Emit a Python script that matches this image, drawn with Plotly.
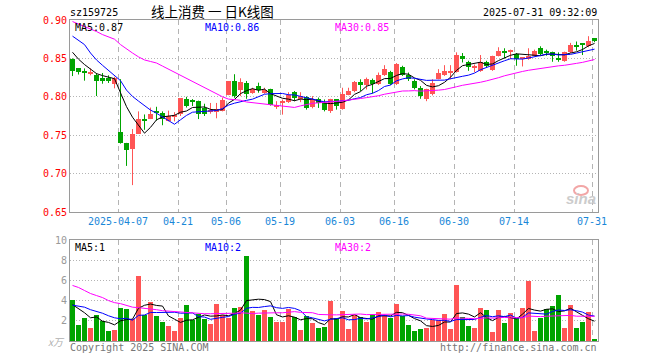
import plotly.graph_objects as go

# ---------------- data ----------------
opens = [0.849, 0.837, 0.833, 0.830, 0.829, 0.825, 0.824, 0.817, 0.754, 0.740,
         0.732, 0.752, 0.771, 0.771, 0.781, 0.779, 0.769, 0.7745, 0.777, 0.797,
         0.7945, 0.794, 0.785, 0.781, 0.780, 0.781, 0.802, 0.8206, 0.8088, 0.8184,
         0.8053, 0.814, 0.8053, 0.8105, 0.7868, 0.7921, 0.7935, 0.8066, 0.7965, 0.800,
         0.7864, 0.797, 0.792, 0.7811, 0.797, 0.7846, 0.803, 0.8075, 0.8193, 0.8153,
         0.822, 0.8162, 0.8281, 0.8329, 0.8162, 0.8382, 0.8281, 0.8206, 0.8118, 0.7965,
         0.8031, 0.8237, 0.8281, 0.8307, 0.8325, 0.8535, 0.8447, 0.838, 0.8338, 0.8456,
         0.8351, 0.8535, 0.8592, 0.8592, 0.8557, 0.8495, 0.8491, 0.8535, 0.8632, 0.8592,
         0.8579, 0.850, 0.8469, 0.8579, 0.8675, 0.8689, 0.8658, 0.8763]
highs = [0.850, 0.837, 0.837, 0.837, 0.831, 0.831, 0.828, 0.826, 0.823, 0.740,
         0.758, 0.781, 0.777, 0.786, 0.787, 0.781, 0.782, 0.780, 0.798, 0.800,
         0.797, 0.795, 0.791, 0.792, 0.792, 0.799, 0.820, 0.8294, 0.8241, 0.8206,
         0.8118, 0.8184, 0.8118, 0.8105, 0.7943, 0.7965, 0.806, 0.8075, 0.806, 0.8009,
         0.8009, 0.799, 0.7965, 0.7974, 0.797, 0.8118, 0.8118, 0.8206, 0.8228, 0.825,
         0.8237, 0.8316, 0.8412, 0.8338, 0.8439, 0.8404, 0.8316, 0.8228, 0.814, 0.8105,
         0.8228, 0.836, 0.8412, 0.8412, 0.8579, 0.857, 0.8469, 0.842, 0.8544, 0.8469,
         0.8535, 0.8645, 0.8632, 0.8614, 0.857, 0.8505, 0.8632, 0.8614, 0.8658, 0.8614,
         0.8588, 0.8579, 0.8588, 0.8702, 0.872, 0.8689, 0.8789, 0.8763]
lows = [0.827, 0.829, 0.821, 0.828, 0.801, 0.817, 0.818, 0.811, 0.739, 0.710,
        0.685, 0.752, 0.757, 0.771, 0.769, 0.763, 0.768, 0.768, 0.775, 0.786,
        0.788, 0.771, 0.775, 0.778, 0.772, 0.781, 0.802, 0.7987, 0.8009, 0.7974,
        0.8039, 0.8053, 0.8039, 0.7886, 0.7842, 0.7768, 0.792, 0.7943, 0.793, 0.7833,
        0.785, 0.7855, 0.781, 0.779, 0.7833, 0.7833, 0.802, 0.806, 0.8075, 0.8096,
        0.8044, 0.8154, 0.8272, 0.8154, 0.8154, 0.8272, 0.8206, 0.8096, 0.7974, 0.7943,
        0.8018, 0.8228, 0.8272, 0.8228, 0.8316, 0.8447, 0.8338, 0.832, 0.8325, 0.8382,
        0.8338, 0.8526, 0.850, 0.8491, 0.8404, 0.8395, 0.8482, 0.8526, 0.8535, 0.8535,
        0.8456, 0.8456, 0.8456, 0.857, 0.8601, 0.8544, 0.8645, 0.8711]
closes = [0.834, 0.832, 0.832, 0.832, 0.821, 0.821, 0.820, 0.824, 0.740, 0.731,
          0.752, 0.771, 0.769, 0.778, 0.780, 0.771, 0.775, 0.7755, 0.798, 0.788,
          0.794, 0.777, 0.777, 0.782, 0.784, 0.796, 0.820, 0.8009, 0.8197, 0.8031,
          0.8096, 0.8088, 0.8088, 0.7899, 0.7899, 0.7930, 0.803, 0.7987, 0.8009, 0.7855,
          0.7974, 0.792, 0.7833, 0.7974, 0.7877, 0.804, 0.8075, 0.8193, 0.8153, 0.8228,
          0.8162, 0.8281, 0.836, 0.8162, 0.8425, 0.8285, 0.8237, 0.8118, 0.8009, 0.8096,
          0.8184, 0.8316, 0.8338, 0.8338, 0.8544, 0.8491, 0.8382, 0.839, 0.8447, 0.8395,
          0.8526, 0.8601, 0.8579, 0.8601, 0.8491, 0.8500, 0.8526, 0.8601, 0.8557, 0.8579,
          0.8526, 0.8491, 0.8579, 0.8675, 0.8658, 0.8675, 0.8732, 0.8732]
volumes = [4.1, 1.6, 2.3, 1.3, 2.6, 2.0, 1.0, 1.1, 3.3, 3.2,
           2.2, 6.4, 2.6, 3.9, 2.5, 1.9, 1.5, 1.0, 2.3, 3.6,
           2.1, 2.7, 2.2, 1.7, 3.7, 2.6, 2.3, 3.3, 3.4, 8.4,
           3.0, 2.6, 3.1, 2.4, 1.9, 1.9, 3.2, 2.4, 1.1, 2.5,
           1.8, 1.3, 1.4, 4.0, 2.3, 3.0, 1.2, 2.6, 2.4, 1.9,
           2.7, 2.9, 2.6, 2.3, 3.7, 2.5, 1.6, 1.0, 1.2, 1.3,
           2.1, 2.1, 2.7, 1.2, 5.5, 2.4, 1.5, 1.3, 3.3, 3.1,
           0.9, 3.1, 1.8, 2.8, 2.3, 3.3, 5.9, 1.0, 2.3, 3.2,
           3.5, 4.6, 1.3, 3.6, 1.3, 1.9, 2.9, 0.1]

# moving-average values before a full window exists
ma5_head = [0.858, 0.849, 0.842, 0.836]
ma10_head = [0.879, 0.874, 0.868, 0.857, 0.848, 0.841, 0.834, 0.827, 0.821]
ma30_head = [0.898, 0.895, 0.891, 0.888, 0.885, 0.881, 0.878, 0.875, 0.868, 0.862,
             0.857, 0.852, 0.848, 0.846, 0.844, 0.840, 0.836, 0.831, 0.827, 0.823,
             0.820, 0.815, 0.811, 0.8075, 0.804, 0.800, 0.797, 0.796, 0.7955]
vma5_head = [3.6, 3.2, 2.8, 2.3]
vma10_head = [3.55, 3.45, 3.35, 3.1, 2.95, 2.75, 2.5, 2.3, 2.2]
vma30_head = [5.5, 5.3, 5.0, 4.7, 4.5, 4.3, 4.0, 3.8, 3.7, 3.5,
              3.35, 3.3, 3.25, 3.2, 3.1, 3.0, 2.95, 2.9, 2.85, 2.8,
              2.75, 2.7, 2.7, 2.7, 2.7, 2.7, 2.7, 2.75, 2.8]

tick_index = [8, 18, 26, 35, 45, 54, 64, 74, 87]
tick_labels = ["2025-04-07", "04-21", "05-06", "05-19", "06-03", "06-16", "06-30", "07-14", "07-31"]
price_ticks = [0.65, 0.70, 0.75, 0.80, 0.85, 0.90]
vol_ticks = [2, 4, 6, 8, 10]


def moving(values, n, head):
    out = list(head)
    for i in range(len(head), len(values)):
        out.append(sum(values[i - n + 1:i + 1]) / n)
    return out


ma5 = moving(closes, 5, ma5_head)
ma10 = moving(closes, 10, ma10_head)
ma30 = moving(closes, 30, ma30_head)
vma5 = moving(volumes, 5, vma5_head)
vma10 = moving(volumes, 10, vma10_head)
vma30 = moving(volumes, 30, vma30_head)

RED = "#ff5555"
GREEN = "#00a400"
MONO = "DejaVu Sans Mono"

n = len(closes)
xs = list(range(n))
up = [closes[i] >= opens[i] for i in xs]

fig = go.Figure()

# wicks
for flag, col in ((True, RED), (False, GREEN)):
    wx, wy = [], []
    for i in xs:
        if up[i] == flag:
            wx += [i, i, None]
            wy += [lows[i], highs[i], None]
    fig.add_trace(go.Scatter(x=wx, y=wy, mode="lines", line=dict(color=col, width=1),
                             xaxis="x", yaxis="y", hoverinfo="skip", showlegend=False))

# bodies
for flag, col in ((True, RED), (False, GREEN)):
    bx = [i for i in xs if up[i] == flag]
    fig.add_trace(go.Bar(
        x=bx,
        base=[min(opens[i], closes[i]) for i in bx],
        y=[max(abs(closes[i] - opens[i]), 0.0013) for i in bx],
        width=0.83, marker=dict(color=col, line=dict(width=0)),
        xaxis="x", yaxis="y", showlegend=False))

# price MAs
for vals, col in ((ma5, "#000000"), (ma10, "#0000ff"), (ma30, "#ff00ff")):
    fig.add_trace(go.Scatter(x=xs, y=vals, mode="lines", line=dict(color=col, width=1),
                             xaxis="x", yaxis="y", showlegend=False))

# volume bars
fig.add_trace(go.Bar(x=xs, y=volumes, width=0.83,
                     marker=dict(color=[RED if u else GREEN for u in up], line=dict(width=0)),
                     xaxis="x2", yaxis="y2", showlegend=False))
for vals, col in ((vma5, "#000000"), (vma10, "#0000ff"), (vma30, "#ff00ff")):
    fig.add_trace(go.Scatter(x=xs, y=vals, mode="lines", line=dict(color=col, width=1),
                             xaxis="x2", yaxis="y2", showlegend=False))

L, R, T, B = 70, 62, 20, 19
W, H = 660, 360
PW, PH = W - L - R, H - T - B


def px(x, y):
    return (x - L) / PW, (H - B - y) / PH


xr = [-0.4167, n - 0.4167]
tickpos = [t - 0.4167 for t in tick_index]
grid_common = dict(showgrid=True, gridcolor="#b4b4b4", gridwidth=1, showline=True, mirror=True,
                   linecolor="#9a9a9a", linewidth=1, zeroline=False, ticks="", fixedrange=True)

fig.update_layout(
    width=W, height=H, margin=dict(l=L, r=R, t=T, b=B),
    paper_bgcolor="white", plot_bgcolor="white", bargap=0, barmode="overlay",
    showlegend=False,
    font=dict(family=MONO, size=10, color="#000"),
    xaxis=dict(domain=[0, 1], range=xr, tickvals=tickpos, ticktext=tick_labels,
               tickfont=dict(family=MONO, size=10, color="#1a87d8"), griddash="5px,4px",
               anchor="y", **grid_common),
    yaxis=dict(domain=[(H - B - 212) / PH, 1], range=[0.65, 0.90], tickvals=price_ticks,
               ticktext=["%.2f" % v for v in price_ticks],
               tickfont=dict(family=MONO, size=10, color="#ff0000"), griddash="1px,2px",
               anchor="x", **grid_common),
    xaxis2=dict(domain=[0, 1], range=xr, tickvals=tickpos, showticklabels=False,
                griddash="5px,4px", anchor="y2", **grid_common),
    yaxis2=dict(domain=[0, (H - B - 240) / PH], range=[0, 10], tickvals=vol_ticks,
                ticktext=[str(v) for v in vol_ticks],
                tickfont=dict(family=MONO, size=10, color="#9a9a9a"), griddash="1px,2px",
                anchor="x2", **grid_common),
)

anns = []


def ann(text, x, y, anchor="left", color="#000", size=10, family=MONO, italic=False):
    xp, yp = px(x, y)
    t = "<i>%s</i>" % text if italic else text
    anns.append(dict(text=t, x=xp, y=yp, xref="paper", yref="paper", xanchor=anchor,
                     yanchor="middle", showarrow=False, borderpad=0,
                     font=dict(family=family, size=size, color=color)))


ann("sz159725", 69, 12)
ann("线上消费 一 日K线图", 212, 11, anchor="center", size=13.5, family="Noto Sans CJK SC")
ann("2025-07-31 09:32:09", 598, 12, anchor="right")
ann("MA5:0.87", 74, 27.5)
ann("MA10:0.86", 204, 27.5, color="#0000ff")
ann("MA30:0.85", 334, 27.5, color="#ff00ff")
ann("MA5:1", 74, 247.5)
ann("MA10:2", 204, 247.5, color="#0000ff")
ann("MA30:2", 334, 247.5, color="#ff00ff")
ann("x万", 56, 342, anchor="center", color="#b0b0b0", size=10, family="Noto Sans CJK SC", italic=True)
ann("Copyright 2025 SINA.COM", 69, 347, color="#777777")
ann("http://finance.sina.com.cn", 598, 347, anchor="right", color="#777777")
ann("<b>sina</b>", 581, 198, anchor="center", color="#cccccc", size=15, family="Liberation Sans", italic=True)
fig.update_layout(annotations=anns)

cx0, cy0 = px(574, 186)
cx1, cy1 = px(588, 195)
fig.add_shape(type="circle", xref="paper", yref="paper", x0=cx0, x1=cx1, y0=cy1, y1=cy0,
              line=dict(color="#f2a6a6", width=2), fillcolor="rgba(255,255,255,0)")

fig.write_html("out.html", config={"displayModeBar": False},
               post_script="document.body.style.margin='0';")
